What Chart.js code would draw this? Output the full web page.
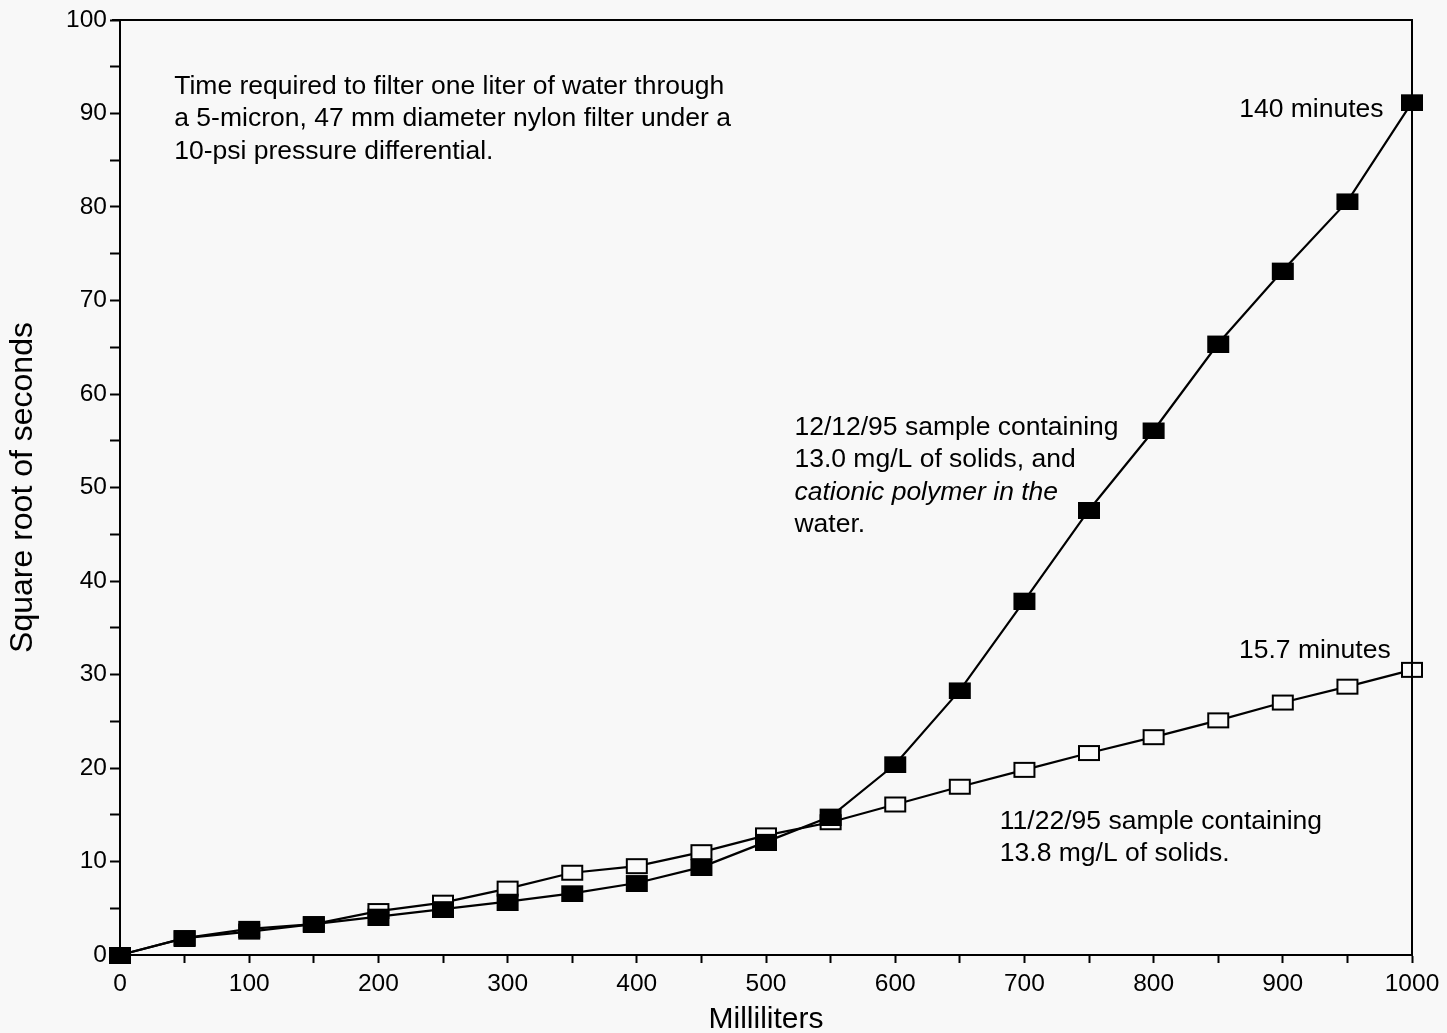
<!DOCTYPE html>
<html>
<head>
<meta charset="utf-8">
<script src="https://cdn.jsdelivr.net/npm/chart.js@4.4.1/dist/chart.umd.min.js"></script>
<style>
  html, body { margin: 0; padding: 0; background: #f8f8f8; }
  #wrap { width: 1447px; height: 1033px; }
</style>
</head>
<body>
<div id="wrap"><canvas id="c" width="1447" height="1033"></canvas></div>
<script>
// Filtered volume (mL)
const volumes = [0, 50, 100, 150, 200, 250, 300, 350, 400, 450, 500,
                 550, 600, 650, 700, 750, 800, 850, 900, 950, 1000];
// 12/12/95 sample: sqrt(seconds) with cationic polymer
const sample121295 = [0, 1.8, 2.8, 3.3, 4.1, 4.9, 5.7, 6.6, 7.7, 9.4, 12.1,
                      14.8, 20.4, 28.3, 37.9, 47.6, 56.1, 65.4, 73.2, 80.6, 91.2];
// 11/22/95 sample: sqrt(seconds)
const sample112295 = [0, 1.8, 2.5, 3.3, 4.7, 5.6, 7.1, 8.8, 9.5, 11.0, 12.8,
                      14.2, 16.1, 18.0, 19.8, 21.6, 23.3, 25.1, 27.0, 28.7, 30.5];
const yTicks = [0, 10, 20, 30, 40, 50, 60, 70, 80, 90, 100];
const xTicks = [0, 100, 200, 300, 400, 500, 600, 700, 800, 900, 1000];

const FONT = '"Liberation Sans", Arial, Helvetica, sans-serif';

// Text notes placed in data coordinates
const notes = [
  { x: 42, y: 92.9, align: 'left', lines: [
      ['Time required to filter one liter of water through', 'normal'],
      ['a 5-micron, 47 mm diameter nylon filter under a', 'normal'],
      ['10-psi pressure differential.', 'normal']] },
  { x: 978, y: 90.4, align: 'right', lines: [['140 minutes', 'normal']] },
  { x: 983.5, y: 32.6, align: 'right', lines: [['15.7 minutes', 'normal']] },
  { x: 522, y: 56.4, align: 'left', lines: [
      ['12/12/95 sample containing', 'normal'],
      ['13.0 mg/L of solids, and', 'normal'],
      ['cationic polymer in the', 'italic'],
      ['water.', 'normal']] },
  { x: 681, y: 14.3, align: 'left', lines: [
      ['11/22/95 sample containing', 'normal'],
      ['13.8 mg/L of solids.', 'normal']] }
];

function rectMarker(filled) {
  const cv = document.createElement('canvas');
  cv.width = 24; cv.height = 18;
  const g = cv.getContext('2d');
  if (filled) {
    g.fillStyle = '#000';
    g.fillRect(1, 1, 22, 17);
  } else {
    g.fillStyle = '#fafafa';
    g.fillRect(1, 1, 22, 16);
    g.strokeStyle = '#000';
    g.lineWidth = 2;
    g.strokeRect(2, 2, 20, 14);
  }
  return cv;
}

const frameAndNotes = {
  id: 'frameAndNotes',
  beforeDraw(chart) {
    const ctx = chart.ctx;
    ctx.save();
    ctx.fillStyle = '#f8f8f8';
    ctx.fillRect(0, 0, chart.width, chart.height);
    ctx.restore();
  },
  afterDraw(chart) {
    const { ctx, chartArea: a, scales } = chart;
    ctx.save();
    ctx.strokeStyle = '#000';
    ctx.lineWidth = 2;
    ctx.beginPath();
    ctx.moveTo(a.left - 8, a.top);
    ctx.lineTo(a.right, a.top);
    ctx.lineTo(a.right, a.bottom);
    ctx.stroke();
    ctx.fillStyle = '#000';
    ctx.textBaseline = 'middle';
    const lh = 32.5;
    for (const n of notes) {
      const px = scales.x.getPixelForValue(n.x);
      const py = scales.y.getPixelForValue(n.y);
      ctx.textAlign = n.align;
      n.lines.forEach((ln, i) => {
        ctx.font = (ln[1] === 'italic' ? 'italic ' : '') + '26.5px ' + FONT;
        ctx.fillText(ln[0], px, py + i * lh);
      });
    }
    ctx.restore();
  }
};

new Chart(document.getElementById('c'), {
  type: 'line',
  data: {
    datasets: [
      {
        label: '12/12/95',
        data: volumes.map((v, i) => ({ x: v, y: sample121295[i] })),
        borderColor: '#000',
        borderWidth: 2.2,
        pointStyle: rectMarker(true),
        pointRadius: 11,
        tension: 0,
        clip: false
      },
      {
        label: '11/22/95',
        data: volumes.map((v, i) => ({ x: v, y: sample112295[i] })),
        borderColor: '#000',
        borderWidth: 2.2,
        pointStyle: rectMarker(false),
        pointRadius: 11,
        tension: 0,
        clip: false
      }
    ]
  },
  options: {
    responsive: false,
    animation: false,
    layout: { padding: { top: 20, right: 35, left: 0, bottom: 0 } },
    plugins: { legend: { display: false }, tooltip: { enabled: false } },
    scales: {
      x: {
        type: 'linear',
        min: 0, max: 1000,
        afterFit(s) { s.height = 78; },
        border: { display: true, color: '#000', width: 2 },
        grid: { display: true, drawOnChartArea: false, drawTicks: true,
                tickLength: 8, tickColor: '#000', tickWidth: 2 },
        ticks: {
          stepSize: 50,
          maxRotation: 0,
          autoSkip: false,
          padding: 7,
          color: '#000',
          font: { family: FONT, size: 24.5 },
          callback: v => xTicks.includes(v) ? String(v) : ''
        },
        title: { display: true, text: 'Milliliters', color: '#000',
                 font: { family: FONT, size: 30 }, padding: { top: 0, bottom: -5 } }
      },
      y: {
        type: 'linear',
        min: 0, max: 100,
        afterFit(s) { s.width = 120; },
        border: { display: true, color: '#000', width: 2 },
        grid: { display: true, drawOnChartArea: false, drawTicks: true,
                tickLength: 10, tickColor: '#000', tickWidth: 2 },
        ticks: {
          stepSize: 5,
          autoSkip: false,
          padding: 3,
          color: '#000',
          font: { family: FONT, size: 24.5 },
          callback: v => yTicks.includes(v) ? String(v) : ''
        },
        title: { display: true, text: 'Square root of seconds', color: '#000',
                 font: { family: FONT, size: 32 }, padding: { top: 4, bottom: 0 } }
      }
    }
  },
  plugins: [frameAndNotes]
});
</script>
</body>
</html>
